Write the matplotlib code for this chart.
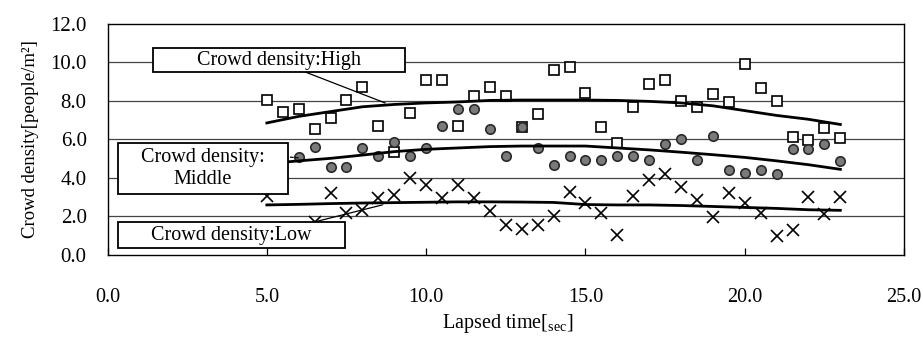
import matplotlib
matplotlib.use("Agg")
import matplotlib.pyplot as plt
from matplotlib.patches import Rectangle

plt.rcParams['font.family'] = ['Liberation Serif', 'DejaVu Serif']
plt.rcParams['mathtext.fontset'] = 'custom'
plt.rcParams['mathtext.rm'] = 'Liberation Serif'

# ---- data ----
high_x = [5.0, 5.5, 6.0, 6.5, 7.0, 7.5, 8.0, 8.5, 9.0, 9.5, 10.0, 10.5, 11.0, 11.5,
          12.0, 12.5, 13.0, 13.5, 14.0, 14.5, 15.0, 15.5, 16.0, 16.5, 17.0, 17.5,
          18.0, 18.5, 19.0, 19.5, 20.0, 20.5, 21.0, 21.5, 22.0, 22.5, 23.0]
high_y = [8.05, 7.45, 7.6, 6.55, 7.1, 8.05, 8.75, 6.7, 5.35, 7.4, 9.1, 9.1, 6.7, 8.27,
          8.72, 8.27, 6.65, 7.35, 9.6, 9.77, 8.4, 6.65, 5.8, 7.7, 8.9, 9.07,
          8.02, 7.67, 8.38, 7.96, 9.9, 8.67, 8.0, 6.12, 5.95, 6.61, 6.09]

mid_x = [6.0, 6.5, 7.0, 7.5, 8.0, 8.5, 9.0, 9.5, 10.0, 10.5, 11.0, 11.5, 12.0, 12.5,
         13.0, 13.5, 14.0, 14.5, 15.0, 15.5, 16.0, 16.5, 17.0, 17.5, 18.0, 18.5,
         19.0, 19.5, 20.0, 20.5, 21.0, 21.5, 22.0, 22.5, 23.0]
mid_y = [5.08, 5.6, 4.55, 4.55, 5.58, 5.14, 5.88, 5.14, 5.58, 6.72, 7.56, 7.56, 6.53, 5.14,
         6.67, 5.54, 4.67, 5.14, 4.93, 4.93, 5.14, 5.14, 4.93, 5.76, 6.0, 4.93,
         6.16, 4.42, 4.24, 4.42, 4.21, 5.49, 5.49, 5.74, 4.88]

low_x = [5.0, 6.5, 7.0, 7.5, 8.0, 8.5, 9.0, 9.5, 10.0, 10.5, 11.0, 11.5, 12.0, 12.5,
         13.0, 13.5, 14.0, 14.5, 15.0, 15.5, 16.0, 16.5, 17.0, 17.5, 18.0, 18.5,
         19.0, 19.5, 20.0, 20.5, 21.0, 21.5, 22.0, 22.5, 23.0]
low_y = [3.06, 1.73, 3.2, 2.17, 2.33, 2.95, 3.11, 3.98, 3.64, 2.95, 3.64, 2.95, 2.26, 1.55,
         1.34, 1.55, 2.03, 3.25, 2.68, 2.2, 1.04, 3.06, 3.89, 4.21, 3.52, 2.86,
         1.99, 3.23, 2.68, 2.2, 0.98, 1.3, 3.03, 2.12, 3.03]

trend_x = [5.0, 6.0, 7.0, 8.0, 9.0, 10.0, 11.0, 12.0, 13.0, 14.0, 15.0, 16.0, 17.0,
           18.0, 19.0, 20.0, 21.0, 22.0, 23.0]
high_trend = [6.86, 7.2, 7.45, 7.7, 7.82, 7.9, 7.95, 8.03, 8.05, 8.05, 8.05, 8.03, 7.98,
              7.9, 7.75, 7.5, 7.25, 7.05, 6.78]
mid_trend = [4.74, 4.89, 5.02, 5.19, 5.37, 5.49, 5.56, 5.63, 5.66, 5.66, 5.66, 5.56, 5.46,
             5.34, 5.21, 5.07, 4.89, 4.69, 4.45]
low_trend = [2.6, 2.63, 2.67, 2.7, 2.72, 2.74, 2.76, 2.76, 2.75, 2.73, 2.62, 2.6, 2.6,
             2.57, 2.52, 2.47, 2.42, 2.35, 2.32]

x_ticks = [0.0, 5.0, 10.0, 15.0, 20.0, 25.0]
y_ticks = [0.0, 2.0, 4.0, 6.0, 8.0, 10.0, 12.0]

label_high = "Crowd density:High"
label_mid = "Crowd density:\nMiddle"
label_low = "Crowd density:Low"

# ---- figure ----
fig = plt.figure(figsize=(9.23, 3.38), dpi=100)
ax = fig.add_axes([0.1165, 0.2456, 0.863, 0.6834])
ax.set_xlim(0, 25)
ax.set_ylim(0, 12)

for g in y_ticks[1:-1]:
    ax.axhline(g, color='#444444', lw=0.9, zorder=1)

ax.plot(high_x, high_y, ls='none', marker='s', ms=7.8, mfc='white', mec='black',
        mew=1.2, zorder=3)
ax.plot(mid_x, mid_y, ls='none', marker='o', ms=6.8, mfc='#7a7a7a', mec='#2a2a2a',
        mew=1.2, zorder=4)
ax.plot(low_x, low_y, ls='none', marker='x', ms=8.5, color='black', mew=1.2, zorder=3)

for tr in (high_trend, mid_trend, low_trend):
    ax.plot(trend_x, tr, color='black', lw=2.0, zorder=5)

# leader lines
ax.plot([6.2, 8.71], [9.51, 7.9], color='black', lw=0.9, zorder=6)
ax.plot([5.1, 6.04], [5.17, 5.04], color='black', lw=0.9, ls=(0, (3, 1)), zorder=6)
ax.plot([6.36, 8.62], [1.66, 2.6], color='black', lw=0.9, zorder=6)

# annotation boxes
def box(x0, y0, x1, y1, text):
    r = Rectangle((x0, y0), x1 - x0, y1 - y0, transform=ax.transAxes,
                  facecolor='white', edgecolor='black', lw=1.3, zorder=7)
    ax.add_patch(r)
    ax.text((x0 + x1) / 2, (y0 + y1) / 2, text, transform=ax.transAxes,
            ha='center', va='center', fontsize=14.5, zorder=8, linespacing=1.25)

box(0.0571, 0.792, 0.3735, 0.896, label_high)
box(0.0132, 0.264, 0.2266, 0.485, label_mid)
box(0.0132, 0.030, 0.2980, 0.143, label_low)

ax.set_xticks(x_ticks)
ax.set_xticklabels([f"{v:.1f}" for v in x_ticks], fontsize=14.5)
ax.set_yticks(y_ticks)
ax.set_yticklabels([f"{v:.1f}" for v in y_ticks], fontsize=15)
ax.tick_params(axis='x', direction='in', length=5, width=0.9, pad=24, top=False)
ax.tick_params(axis='y', length=0, pad=15)

for s in ax.spines.values():
    s.set_linewidth(1.0)
    s.set_color('black')

ax.set_xlabel(r"Lapsed time[$_{\mathrm{sec}}$]", fontsize=14.5, va='baseline')
ax.xaxis.set_label_coords(0.5025, -0.318)
ax.set_ylabel("Crowd density[people/m²]", fontsize=13.5, labelpad=8)

fig.savefig("out.png", dpi=100)
